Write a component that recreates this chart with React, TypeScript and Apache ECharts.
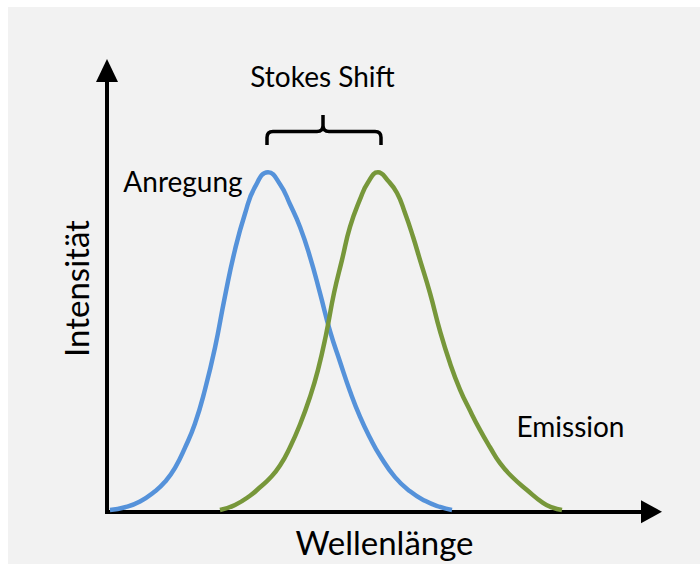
import React, { useEffect, useRef } from "react";
import * as echarts from "echarts";

// Excitation (Anregung) spectrum: wavelength (arbitrary units 0..100) and relative intensity
const excitationX = [0.55, 3.31, 6.06, 8.82, 10.65, 12.49, 14.33, 16.16, 18.0, 19.83, 21.67, 23.51, 25.34, 27.18, 29.57, 31.77, 33.61, 35.45, 37.28, 39.12, 40.96, 42.79, 44.63, 46.46, 48.3, 50.14, 52.89, 55.65, 58.4, 61.16, 63.36];
const excitationY = [0.005, 0.013, 0.03, 0.06, 0.088, 0.129, 0.189, 0.26, 0.36, 0.483, 0.635, 0.772, 0.878, 0.957, 1.0, 0.965, 0.906, 0.839, 0.751, 0.644, 0.532, 0.442, 0.355, 0.28, 0.218, 0.165, 0.102, 0.06, 0.032, 0.014, 0.005];

// Emission spectrum
const emissionX = [20.75, 23.51, 26.26, 28.1, 29.94, 31.77, 33.61, 35.45, 37.28, 38.75, 40.22, 41.69, 43.16, 44.63, 46.46, 47.93, 49.77, 51.61, 53.26, 54.73, 56.2, 57.48, 59.32, 61.16, 62.99, 64.83, 66.67, 68.5, 70.34, 72.18, 74.38, 77.13, 80.07, 81.73, 83.56];
const emissionY = [0.005, 0.02, 0.047, 0.072, 0.099, 0.136, 0.19, 0.257, 0.338, 0.418, 0.521, 0.644, 0.742, 0.839, 0.92, 0.97, 1.0, 0.975, 0.939, 0.88, 0.81, 0.742, 0.644, 0.532, 0.438, 0.36, 0.298, 0.241, 0.19, 0.143, 0.103, 0.064, 0.026, 0.013, 0.005];

const seriesNames = ["Anregung", "Emission"];
const annotationTitle = "Stokes Shift";
const xAxisTitle = "Wellenlänge";
const yAxisTitle = "Intensität";

const BRACE_D =
  "M259 138 L259 130.5 Q259 124.5 265 124.5 L309 124.5 Q315 124.5 315 118.5 L315 108 M315 118.5 Q315 124.5 321 124.5 L367 124.5 Q373 124.5 373 130.5 L373 138";
echarts.graphic.registerShape("brace", echarts.graphic.extendPath(BRACE_D, {}));

const FONT = "Lato";

export default function App() {
  const ref = useRef<HTMLDivElement>(null);
  useEffect(() => {
    if (!ref.current) return;
    const chart = echarts.init(ref.current, null, { renderer: "svg" });
    const exData = excitationX.map((x, i) => [x, excitationY[i]]);
    const emData = emissionX.map((x, i) => [x, emissionY[i]]);
    chart.setOption({
      animation: false,
      backgroundColor: "#f2f2f2",
      grid: { left: 99, right: 48.5, top: 63.5, bottom: 52.3 },
      xAxis: {
        type: "value",
        min: 0,
        max: 100,
        axisLine: {
          show: true,
          symbol: ["none", "triangle"],
          symbolSize: [23, 21],
          lineStyle: { color: "#000", width: 4, cap: "square" },
        },
        axisTick: { show: false },
        axisLabel: { show: false },
        splitLine: { show: false },
      },
      yAxis: {
        type: "value",
        min: 0,
        max: 1.3,
        axisLine: {
          show: true,
          symbol: ["none", "triangle"],
          symbolSize: [22, 23],
          lineStyle: { color: "#000", width: 4, cap: "square" },
        },
        axisTick: { show: false },
        axisLabel: { show: false },
        splitLine: { show: false },
      },
      series: [
        {
          name: seriesNames[0],
          type: "line",
          data: exData,
          smooth: 0.5,
          symbol: "none",
          lineStyle: { color: "#5592da", width: 4.5 },
          z: 3,
        },
        {
          name: seriesNames[1],
          type: "line",
          data: emData,
          smooth: 0.5,
          symbol: "none",
          lineStyle: { color: "#77973a", width: 4.5 },
          z: 4,
        },
      ],
      graphic: [
        {
          type: "brace",
          x: 0,
          y: 0,
          style: { stroke: "#000", lineWidth: 3.5, fill: "none" },
        },
        {
          type: "text",
          x: 314.5,
          y: 69,
          style: { text: annotationTitle, font: `28px ${FONT}`, fill: "#000", textAlign: "center", textVerticalAlign: "middle" },
        },
        {
          type: "text",
          x: 175,
          y: 174,
          style: { text: seriesNames[0], font: `28px ${FONT}`, fill: "#000", textAlign: "center", textVerticalAlign: "middle" },
        },
        {
          type: "text",
          x: 562.5,
          y: 419,
          style: { text: seriesNames[1], font: `28px ${FONT}`, fill: "#000", textAlign: "center", textVerticalAlign: "middle" },
        },
        {
          type: "text",
          x: 376.5,
          y: 534.5,
          style: { text: xAxisTitle, font: `33px ${FONT}`, fill: "#000", textAlign: "center", textVerticalAlign: "middle" },
        },
        {
          type: "text",
          x: 67.5,
          y: 281.5,
          rotation: Math.PI / 2,
          style: { text: yAxisTitle, font: `33px ${FONT}`, fill: "#000", textAlign: "center", textVerticalAlign: "middle" },
        },
      ],
    });
    return () => chart.dispose();
  }, []);
  return (
    <div style={{ position: "fixed", left: 0, top: 0, width: 700, height: 564, background: "#fff", overflow: "hidden" }}>
      <div ref={ref} style={{ position: "absolute", left: 8, top: 7, width: 692, height: 557 }} />
    </div>
  );
}
